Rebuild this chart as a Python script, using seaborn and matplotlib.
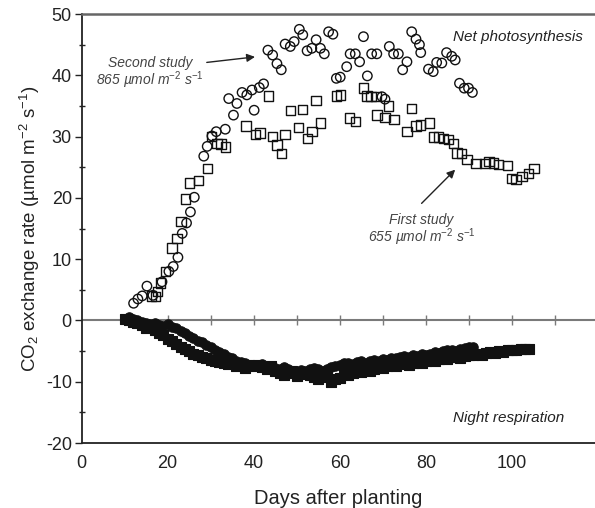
import matplotlib
matplotlib.use("Agg")
import matplotlib.pyplot as plt
import seaborn as sns
import pandas as pd

# Net photosynthesis, second study (open circles)
ps2_day = [12.1, 13.1, 14.1, 15.2, 16.6, 18.7, 20.3, 21.3, 22.4, 23.4, 24.4, 25.3,
           26.2, 28.4, 29.2, 30.3, 31.3, 33.4, 34.2, 35.3, 36.1, 37.3, 38.4, 39.6,
           40.1, 41.3, 42.3, 43.3, 44.4, 45.4, 46.4, 47.3, 48.5, 49.4, 50.6, 51.4,
           52.4, 53.5, 54.5, 55.5, 56.4, 57.4, 58.4, 59.2, 60.1, 61.6, 62.4, 63.6,
           64.6, 65.5, 66.4, 67.4, 68.6, 69.8, 70.5, 71.5, 72.5, 73.6, 74.6, 75.6,
           76.7, 77.7, 78.5, 78.8, 80.6, 81.7, 82.5, 83.7, 84.8, 86.0, 86.8, 87.8,
           88.9, 89.9, 90.8]
ps2_val = [2.8, 3.5, 4.0, 5.6, 4.1, 6.3, 8.0, 8.8, 10.3, 14.2, 15.9, 17.7,
           20.1, 26.8, 28.4, 30.1, 30.8, 31.2, 36.2, 33.5, 35.4, 37.2, 36.8, 37.6,
           34.3, 38.0, 38.6, 44.1, 43.3, 41.9, 40.9, 45.1, 44.7, 45.5, 47.5, 46.6,
           44.0, 44.4, 45.8, 44.4, 43.5, 47.1, 46.7, 39.5, 39.7, 41.4, 43.5, 43.5,
           42.2, 46.3, 39.9, 43.5, 43.5, 36.5, 36.1, 44.7, 43.5, 43.5, 40.9, 42.2,
           47.1, 45.9, 45.0, 43.7, 41.0, 40.6, 42.1, 42.0, 43.7, 43.1, 42.5, 38.7,
           37.9, 37.9, 37.2]

# Net photosynthesis, first study (open squares)
ps1_day = [16.2, 17.2, 17.7, 18.3, 19.5, 21.0, 22.2, 23.1, 24.1, 25.1, 27.2, 29.3,
           30.2, 31.5, 32.4, 33.4, 38.2, 40.4, 41.5, 43.5, 44.4, 45.4, 46.4, 47.3,
           48.5, 50.4, 51.4, 52.5, 53.5, 54.5, 55.5, 59.2, 60.1, 62.3, 63.6, 65.5,
           66.3, 67.2, 68.4, 68.6, 70.5, 71.3, 72.6, 75.6, 76.7, 77.7, 78.8, 80.8,
           81.7, 82.9, 84.1, 85.2, 86.4, 87.2, 88.3, 89.5, 91.6, 93.7, 94.7, 95.7,
           96.8, 98.9, 99.9, 100.9, 102.3, 103.8, 105.1]
ps1_val = [4.0, 3.9, 4.7, 6.1, 8.0, 11.8, 13.4, 16.1, 19.8, 22.4, 22.8, 24.8,
           30.0, 28.9, 28.8, 28.3, 31.7, 30.3, 30.6, 36.6, 30.0, 28.6, 27.2, 30.3,
           34.3, 31.5, 34.4, 29.7, 30.8, 35.9, 32.2, 36.6, 36.8, 33.0, 32.5, 37.9,
           36.6, 36.5, 36.5, 33.5, 33.1, 35.0, 32.8, 30.8, 34.6, 31.7, 31.9, 32.2,
           29.9, 29.9, 29.7, 29.5, 28.9, 27.3, 27.2, 26.3, 25.6, 25.6, 25.9, 25.7,
           25.4, 25.3, 23.2, 23.0, 23.5, 24.0, 24.8]

# Night respiration, second study (filled circles), one value per day from day 11
nr2_day = list(range(11, 92))
nr2_val = [0.6, 0.2, 0.0, -0.3, -0.4, -0.6, -0.5, -0.8, -0.9, -0.6,
           -1.0, -1.3, -1.8, -2.0, -2.5, -2.9, -3.3, -3.6, -4.0, -4.4,
           -4.8, -5.2, -5.5, -5.9, -6.2, -6.6, -6.8, -7.0, -7.3, -7.2,
           -7.5, -7.1, -7.6, -7.4, -7.8, -8.0, -7.6, -7.9, -8.2, -8.4,
           -8.1, -8.3, -8.0, -7.7, -8.0, -8.3, -7.9, -7.6, -7.4, -7.2,
           -7.0, -6.9, -7.1, -6.8, -6.7, -6.9, -6.6, -6.5, -6.6, -6.3,
           -6.4, -6.1, -6.2, -6.0, -5.8, -5.9, -5.7, -5.8, -5.5, -5.6,
           -5.4, -5.2, -5.3, -5.0, -4.9, -4.8, -5.0, -4.6, -4.5, -4.4, -4.3]

# Night respiration, first study (filled squares), one value per day from day 10
nr1_day = list(range(10, 105))
nr1_val = [0.3, 0.0, -0.3, -0.5, -0.8, -1.2, -0.8, -1.5, -2.0, -2.4, -3.0,
           -3.3, -3.8, -4.3, -4.6, -5.0, -5.4, -5.7, -6.0, -6.2, -6.5,
           -6.6, -6.8, -7.0, -7.1, -7.0, -7.4, -7.2, -7.8, -7.3, -7.5,
           -7.2, -7.6, -8.0, -7.4, -8.2, -8.6, -8.9, -8.5, -8.2, -9.0,
           -8.7, -8.4, -8.9, -9.2, -9.6, -9.0, -9.3, -10.0, -9.6, -9.4,
           -8.6, -8.9, -8.6, -8.2, -8.4, -8.0, -8.3, -7.9, -7.6, -7.7,
           -7.5, -7.3, -7.4, -7.1, -7.0, -7.2, -6.9, -6.8, -6.9, -6.6,
           -6.5, -6.6, -6.3, -6.2, -6.3, -6.0, -5.9, -6.1, -5.8, -5.7,
           -5.6, -5.5, -5.6, -5.3, -5.2, -5.3, -5.0, -5.1, -4.9, -4.8,
           -4.9, -4.7, -4.6, -4.7]

y_ticks = [-20, -10, 0, 10, 20, 30, 40, 50]
x_ticks = [0, 20, 40, 60, 80, 100]

sns.set_theme(style="ticks")
plt.rcParams["font.family"] = ["Liberation Sans", "DejaVu Sans"]
plt.rcParams["axes.unicode_minus"] = False
plt.rcParams["mathtext.fontset"] = "custom"
plt.rcParams["mathtext.rm"] = "Liberation Sans"
plt.rcParams["mathtext.it"] = "Liberation Sans:italic"
plt.rcParams["mathtext.default"] = "regular"

ps2 = pd.DataFrame({"day": ps2_day, "rate": ps2_val})
ps1 = pd.DataFrame({"day": ps1_day, "rate": ps1_val})
nr2 = pd.DataFrame({"day": nr2_day, "rate": nr2_val})
nr1 = pd.DataFrame({"day": nr1_day, "rate": nr1_val})

fig = plt.figure(figsize=(5.95, 5.08), dpi=100)
ax = fig.add_axes([81.5 / 595, 65 / 508, (595 - 81.5) / 595, 429 / 508])

ink = "#111111"
ms = 46
sns.scatterplot(data=nr1, x="day", y="rate", marker="s", s=ms, color=ink,
                edgecolor=ink, linewidth=0.8, ax=ax, zorder=3)
sns.scatterplot(data=nr2, x="day", y="rate", marker="o", s=ms, color=ink,
                edgecolor=ink, linewidth=0.8, ax=ax, zorder=3)
sns.scatterplot(data=ps1, x="day", y="rate", marker="s", s=ms, facecolor="none",
                edgecolor=ink, linewidth=1.0, ax=ax, zorder=3)
sns.scatterplot(data=ps2, x="day", y="rate", marker="o", s=ms, facecolor="none",
                edgecolor=ink, linewidth=1.0, ax=ax, zorder=3)

ax.set_xlim(0, (595 - 81.5) / 4.305)
ax.set_ylim(-20, 50)

# zero reference line carrying the day ticks
ax.axhline(0, color="#7a7a7a", lw=1.5, zorder=1)
zero_axis = ax.secondary_xaxis(20 / 70)
zero_axis.spines["bottom"].set_visible(False)
zero_axis.set_xticks(range(10, 120, 10))
zero_axis.tick_params(axis="x", direction="inout", length=7, width=1.0,
                      color="#7a7a7a", labelbottom=False)

ax.set_xticks(x_ticks)
ax.tick_params(axis="x", length=0, labelsize=13, pad=9, colors="#222222")
ax.set_yticks(y_ticks)
ax.set_yticks([-15, -5, 5, 15, 25, 35, 45], minor=True)
ax.tick_params(axis="y", which="major", direction="out", length=5, width=1.0,
               labelsize=13, pad=2, colors="#222222")
ax.tick_params(axis="y", which="minor", direction="inout", length=5, width=1.0,
               color="#222222")

for side in ("left", "bottom"):
    ax.spines[side].set_color("#222222")
    ax.spines[side].set_linewidth(1.3)
ax.spines["top"].set_visible(True)
ax.spines["top"].set_color("#666666")
ax.spines["top"].set_linewidth(1.8)
ax.spines["right"].set_visible(False)

ax.set_xlabel("Days after planting", fontsize=14.5, color="#222222", labelpad=12)
ax.set_ylabel("CO$_2$ exchange rate (µmol m$^{-2}$ s$^{-1}$)", fontsize=13.5,
              color="#222222", labelpad=3)

note = "#444444"
arrow = dict(arrowstyle="-|>", color="#222222", lw=1.0,
             shrinkA=0, shrinkB=0, mutation_scale=12)
sup2 = "$^{\\mathit{-2}}$"
sup1 = "$^{\\mathit{-1}}$"

# second study label and arrow
ax.text(16.0, 42.0, "Second study", ha="center", va="center",
        fontsize=10, style="italic", color=note)
ax.text(16.0, 39.2, "865 µmol m" + sup2 + " s" + sup1, ha="center", va="center",
        fontsize=10, style="italic", color=note)
ax.annotate("", xy=(40.3, 43.0), xytext=(29.1, 42.1), arrowprops=arrow)

# first study label and arrow
ax.text(79.0, 16.4, "First study", ha="center", va="center",
        fontsize=10, style="italic", color=note)
ax.text(79.0, 13.6, "655 µmol m" + sup2 + " s" + sup1, ha="center", va="center",
        fontsize=10, style="italic", color=note)
ax.annotate("", xy=(86.8, 24.6), xytext=(79.0, 19.1), arrowprops=arrow)

ax.text(86.3, 46.3, "Net photosynthesis", ha="left", va="center",
        fontsize=11, style="italic", color="#222222")
ax.text(86.3, -15.9, "Night respiration", ha="left", va="center",
        fontsize=11, style="italic", color="#222222")

fig.savefig("out.png", dpi=100)
